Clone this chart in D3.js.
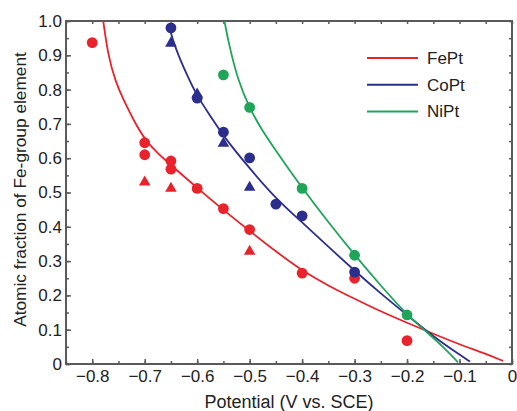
<!DOCTYPE html>
<html>
<head>
<meta charset="utf-8">
<script src="https://cdn.jsdelivr.net/npm/d3@7"></script>
<style>
  body { margin: 0; background: #fff; }
  svg { font-family: "Liberation Sans", Arial, sans-serif; }
</style>
</head>
<body>
<div id="chart"></div>
<script>
// measured points: [potential, fraction]
var fePtCircles = [[-0.80, 0.937], [-0.70, 0.645], [-0.70, 0.61], [-0.65, 0.592], [-0.65, 0.568],
    [-0.60, 0.512], [-0.55, 0.453], [-0.50, 0.392], [-0.40, 0.265], [-0.30, 0.25], [-0.20, 0.068]];
var fePtTriangles = [[-0.70, 0.53], [-0.65, 0.512], [-0.50, 0.328]];
var coPtCircles = [[-0.65, 0.98], [-0.60, 0.775], [-0.55, 0.676], [-0.50, 0.601], [-0.45, 0.466],
    [-0.40, 0.432], [-0.30, 0.268]];
var coPtTriangles = [[-0.65, 0.935], [-0.60, 0.787], [-0.55, 0.643], [-0.50, 0.515]];
var niPtCircles = [[-0.55, 0.843], [-0.50, 0.748], [-0.40, 0.512], [-0.30, 0.317], [-0.20, 0.143]];

// fitted curves
var fePtFit = [[-0.779, 1.0], [-0.77, 0.90], [-0.755, 0.82], [-0.741, 0.772], [-0.72, 0.707],
    [-0.70, 0.655], [-0.675, 0.613], [-0.65, 0.58], [-0.60, 0.513], [-0.55, 0.449], [-0.50, 0.388],
    [-0.45, 0.328], [-0.40, 0.272], [-0.35, 0.228], [-0.30, 0.19], [-0.25, 0.153], [-0.20, 0.12],
    [-0.15, 0.088], [-0.10, 0.057], [-0.05, 0.03], [-0.017, 0.009]];
var coPtFit = [[-0.655, 0.99], [-0.642, 0.922], [-0.62, 0.844], [-0.60, 0.78], [-0.572, 0.717],
    [-0.55, 0.664], [-0.50, 0.57], [-0.45, 0.482], [-0.40, 0.413], [-0.35, 0.342], [-0.30, 0.272],
    [-0.25, 0.205], [-0.20, 0.143], [-0.15, 0.08], [-0.10, 0.027], [-0.08, 0.007]];
var niPtFit = [[-0.548, 1.0], [-0.54, 0.935], [-0.522, 0.825], [-0.50, 0.745], [-0.477, 0.683],
    [-0.45, 0.622], [-0.40, 0.513], [-0.35, 0.413], [-0.30, 0.318], [-0.25, 0.228], [-0.20, 0.143],
    [-0.163, 0.094], [-0.131, 0.05], [-0.103, 0.005]];

var seriesNames = ['FePt', 'CoPt', 'NiPt'];
var seriesColors = ['#e8232b', '#2b2e8c', '#1fa55a'];

var xTicks = [-0.8, -0.7, -0.6, -0.5, -0.4, -0.3, -0.2, -0.1, 0];
var yTicks = [0, 0.1, 0.2, 0.3, 0.4, 0.5, 0.6, 0.7, 0.8, 0.9, 1.0];

var width = 517, height = 411,
    plot = { left: 66, right: 512, top: 21, bottom: 364 },
    frameColor = '#5a5a5a';

var svg = d3.select('#chart').append('svg')
    .attr('width', width)
    .attr('height', height);

var x = d3.scaleLinear().domain([-0.85, 0]).range([plot.left, plot.right]),
    y = d3.scaleLinear().domain([0, 1]).range([plot.bottom, plot.top]);

function fmt (d) {
    if (d === 0) return '0';
    return d3.format('.1f')(d).replace('-', '\u2212');
}

var minorX = d3.range(-0.85, 0.001, 0.05).map(function (d) { return +d.toFixed(2); }),
    minorY = d3.range(0, 1.001, 0.05).map(function (d) { return +d.toFixed(2); });

// minor ticks on all four sides (inward)
function minor (axis, tr, vals) {
    var g = svg.append('g').attr('transform', tr).call(axis.tickValues(vals).tickSize(-3).tickFormat(''));
    g.select('.domain').remove();
    g.selectAll('line').attr('stroke', frameColor).attr('stroke-width', 1.5);
}
minor(d3.axisBottom(x), 'translate(0,' + plot.bottom + ')', minorX);
minor(d3.axisTop(x), 'translate(0,' + plot.top + ')', minorX);
minor(d3.axisLeft(y), 'translate(' + plot.left + ',0)', minorY);
minor(d3.axisRight(y), 'translate(' + plot.right + ',0)', minorY);

// major ticks with labels
var xAxis = svg.append('g')
    .attr('transform', 'translate(0,' + plot.bottom + ')')
    .call(d3.axisBottom(x).tickValues(xTicks).tickSize(-5).tickPadding(6).tickFormat(fmt));
var yAxis = svg.append('g')
    .attr('transform', 'translate(' + plot.left + ',0)')
    .call(d3.axisLeft(y).tickValues(yTicks).tickSize(-5).tickPadding(4).tickFormat(fmt));
[xAxis, yAxis].forEach(function (g) {
    g.select('.domain').remove();
    g.selectAll('line').attr('stroke', frameColor).attr('stroke-width', 1.5);
    g.selectAll('text').attr('fill', '#222').style('font-size', '17px')
        .style('font-family', '"Liberation Sans", Arial, sans-serif');
});

// frame
svg.append('rect')
    .attr('x', plot.left).attr('y', plot.top)
    .attr('width', plot.right - plot.left).attr('height', plot.bottom - plot.top)
    .attr('fill', 'none').attr('stroke', frameColor).attr('stroke-width', 2);

// fitted curves
var line = d3.line()
    .x(function (d) { return x(d[0]); })
    .y(function (d) { return y(d[1]); })
    .curve(d3.curveBasis);

[fePtFit, coPtFit, niPtFit].forEach(function (fit, i) {
    svg.append('path').datum(fit)
        .attr('d', line)
        .attr('fill', 'none')
        .attr('stroke', seriesColors[i])
        .attr('stroke-width', 1.8);
});

// markers
var tri = d3.symbol().type(d3.symbolTriangle).size(58);
[[fePtCircles, fePtTriangles], [coPtCircles, coPtTriangles], [niPtCircles, []]].forEach(function (s, i) {
    svg.append('g').selectAll('circle').data(s[0]).enter().append('circle')
        .attr('cx', function (d) { return x(d[0]); })
        .attr('cy', function (d) { return y(d[1]); })
        .attr('r', 5.4)
        .attr('fill', seriesColors[i]);
    svg.append('g').selectAll('path').data(s[1]).enter().append('path')
        .attr('d', tri)
        .attr('transform', function (d) { return 'translate(' + x(d[0]) + ',' + y(d[1]) + ')'; })
        .attr('fill', seriesColors[i]);
});

// legend
var legend = svg.append('g').attr('transform', 'translate(367,58)');
seriesNames.forEach(function (name, i) {
    var row = legend.append('g').attr('transform', 'translate(0,' + (i * 26.7) + ')');
    row.append('line').attr('x1', 0).attr('x2', 51).attr('y1', 0).attr('y2', 0)
        .attr('stroke', seriesColors[i]).attr('stroke-width', 2);
    row.append('text').attr('x', 60).attr('y', 6).text(name)
        .attr('fill', '#222').style('font-size', '17px');
});

// axis titles
svg.append('text')
    .attr('x', (plot.left + plot.right) / 2).attr('y', 408)
    .attr('text-anchor', 'middle')
    .attr('fill', '#222').style('font-size', '18px')
    .text('Potential (V vs. SCE)');
svg.append('text')
    .attr('transform', 'translate(26,' + ((plot.top + plot.bottom) / 2 - 3) + ') rotate(-90)')
    .attr('text-anchor', 'middle')
    .attr('fill', '#222').style('font-size', '17.3px')
    .text('Atomic fraction of Fe-group element');
</script>
</body>
</html>
